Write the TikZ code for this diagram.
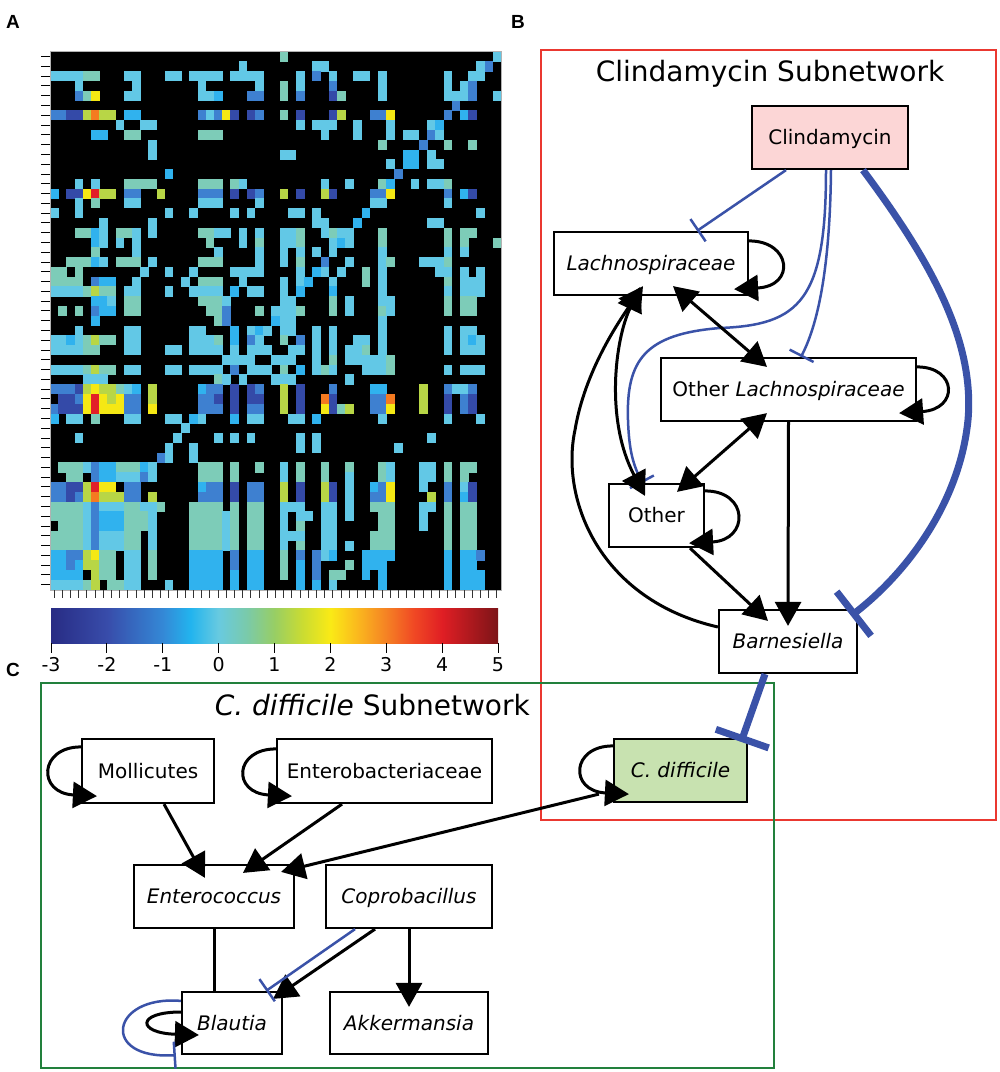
\documentclass[tikz,border=0pt]{standalone}
\usepackage{fontspec}
\setmainfont{DejaVu Sans}
\newfontfamily\panelfont{Liberation Sans}
\usetikzlibrary{arrows.meta}
\definecolor{hmcolc}{RGB}{98,200,230}
\definecolor{hmcols}{RGB}{48,178,238}
\definecolor{hmcolt}{RGB}{125,204,184}
\definecolor{hmcolb}{RGB}{62,128,208}
\definecolor{hmcold}{RGB}{52,74,168}
\definecolor{hmcolg}{RGB}{184,214,70}
\definecolor{hmcoly}{RGB}{245,232,20}
\definecolor{hmcolo}{RGB}{245,122,32}
\definecolor{hmcolr}{RGB}{226,32,40}
\definecolor{jA}{RGB}{40,44,132}
\definecolor{jB}{RGB}{56,76,170}
\definecolor{jC}{RGB}{52,136,214}
\definecolor{jD}{RGB}{34,180,238}
\definecolor{jE}{RGB}{104,202,224}
\definecolor{jF}{RGB}{122,202,170}
\definecolor{jG}{RGB}{152,206,100}
\definecolor{jH}{RGB}{202,220,50}
\definecolor{jI}{RGB}{250,234,22}
\definecolor{jJ}{RGB}{250,182,30}
\definecolor{jK}{RGB}{245,130,36}
\definecolor{jL}{RGB}{240,72,36}
\definecolor{jM}{RGB}{224,30,36}
\definecolor{jN}{RGB}{124,20,24}
\definecolor{netblue}{RGB}{58,82,168}
\definecolor{clinfill}{RGB}{252,214,214}
\definecolor{cdfill}{RGB}{200,226,176}
\definecolor{redframe}{RGB}{234,56,48}
\definecolor{greenframe}{RGB}{34,128,60}
\pgfdeclarehorizontalshading{jetbar}{100bp}{color(0bp)=(jA); color(25bp)=(jA); color(31.25bp)=(jB); color(37.5bp)=(jC); color(40.6bp)=(jD); color(43.75bp)=(jE); color(46.9bp)=(jF); color(50bp)=(jG); color(53.1bp)=(jH); color(56.25bp)=(jI); color(59.4bp)=(jJ); color(62.5bp)=(jK); color(65.6bp)=(jL); color(68.75bp)=(jM); color(75bp)=(jN); color(100bp)=(jN)}
\newcommand\hmrow[2]{\foreach \a/\b/\k in {#2}{\fill[hmcol\k] ({50+8.2*\a},{51.7+9.78*#1}) rectangle ({50.3+8.2*(\b+1)},{52+9.78*(#1+1)});}}
\tikzset{
  netbox/.style={draw=black, fill=white, line width=2.2pt, minimum height=63pt, inner sep=0pt, text height=14.6pt, text depth=0pt, font=\fontsize{20}{24}\selectfont},
  actarrow/.style={draw=black, line width=3pt, -{Triangle[length=24pt,width=26pt]}},
  biarrow/.style={draw=black, line width=3pt, {Triangle[length=24pt,width=26pt]}-{Triangle[length=24pt,width=26pt]}},
  plainline/.style={draw=black, line width=3pt},
  inhib/.style={draw=netblue, line width=2.5pt, -{Bar[width=27pt]}},
  inhibthick/.style={draw=netblue, line width=7pt, -{Bar[width=56pt]}},
  paneltag/.style={font=\panelfont\bfseries\fontsize{19}{22}\selectfont, inner sep=0pt},
  subtitle/.style={font=\fontsize{28}{34}\selectfont, inner sep=0pt},
  cblabel/.style={font=\fontsize{19}{22}\selectfont, inner sep=0pt, anchor=base},
}
\begin{document}
\begin{tikzpicture}[x=1pt,y=-1pt]
\useasboundingbox (0,0) rectangle (1000,1072);
\fill[white] (0,0) rectangle (1000,1072);
% ---------------- panel A : heatmap
\fill[black] (50,51.7) rectangle (501,590);
\hmrow{0}{28/28/t,54/54/c}
\hmrow{1}{23/23/c,32/33/c,52/52/c,53/53/b}
\hmrow{2}{0/3/c,4/5/t,9/10/c,14/15/c,17/20/c,22/25/c,30/30/c,32/32/b,34/34/c,37/38/c,40/40/c,48/48/c,51/52/c}
\hmrow{3}{3/3/c,10/10/c,18/18/c,25/25/c,28/28/t,30/30/c,34/34/b,40/40/c,48/48/c,50/50/c,51/51/b}
\hmrow{4}{3/3/b,4/4/t,5/5/y,9/10/c,18/19/c,20/20/s,24/25/b,28/28/t,30/30/b,34/34/d,35/35/t,40/40/c,48/50/c,51/51/b,54/54/c}
\hmrow{5}{49/49/b}
\hmrow{6}{0/1/b,2/3/d,4/4/g,5/5/o,6/7/g,9/10/s,18/18/b,19/19/c,20/20/b,21/21/y,22/22/d,24/24/d,25/25/b,28/28/t,30/30/d,34/34/d,35/35/g,39/40/b,41/41/y,48/48/b,50/50/s,51/51/d}
\hmrow{7}{8/8/c,11/12/c,30/30/c,32/34/c,37/37/c,41/41/c,46/46/c,47/47/s}
\hmrow{8}{5/6/s,9/10/t,18/20/t,33/33/c,37/37/c,41/41/c,43/44/c,46/46/b,47/47/c}
\hmrow{9}{12/12/c,40/40/t,45/45/b,48/48/t,51/51/t}
\hmrow{10}{12/12/c,28/29/c,43/44/s,46/46/c}
\hmrow{11}{41/41/c,43/44/s,46/47/c}
\hmrow{12}{14/14/s,42/42/b}
\hmrow{13}{3/3/c,5/5/c,9/12/t,18/20/t,22/22/t,23/23/c,33/33/c,36/36/c,40/40/t,41/41/s,44/44/c,46/47/c,48/48/t}
\hmrow{14}{0/0/s,2/3/d,4/4/y,5/5/r,6/7/g,9/10/b,13/13/g,18/20/b,22/22/d,24/24/d,25/25/b,28/28/g,30/30/d,33/33/g,34/34/d,39/40/b,41/41/y,48/48/b,50/50/s,51/51/d}
\hmrow{15}{3/3/c,5/5/t,9/10/c,18/20/c,25/25/c,39/40/c,48/48/c}
\hmrow{16}{0/0/c,3/3/c,14/14/c,17/17/c,22/22/c,24/24/c,29/30/c,32/32/c,38/38/s,52/52/c}
\hmrow{17}{6/6/c,12/12/c,32/33/c,37/37/s,46/47/c}
\hmrow{18}{3/4/t,5/5/s,6/6/c,8/9/t,10/10/c,12/12/c,18/19/t,20/21/c,23/23/c,25/25/c,28/29/c,30/30/t,33/33/c,34/34/t,35/36/c,40/40/t,48/48/t,50/51/t}
\hmrow{19}{5/5/s,6/6/c,8/8/c,10/10/c,19/19/t,23/23/c,25/25/t,28/29/c,30/30/t,34/34/c,35/35/s,36/36/c,40/40/t,48/48/t,50/50/t,54/54/t}
\hmrow{20}{5/5/t,10/10/c,20/20/c,25/25/c,28/28/c,30/30/c,32/32/c,34/34/c,40/40/c,48/48/c,50/50/c}
\hmrow{21}{2/4/t,5/5/s,6/6/c,8/10/t,12/12/c,18/20/t,25/25/c,28/28/c,30/30/t,33/33/b,36/36/c,40/40/c,41/41/t,45/47/c,48/48/t}
\hmrow{22}{0/1/t,3/3/t,11/11/c,14/14/c,17/17/c,22/25/c,30/30/c,32/32/s,33/33/c,35/35/c,38/38/t,40/40/c,47/48/c,50/50/c,52/52/c}
\hmrow{23}{0/3/t,5/5/b,6/7/s,10/10/c,16/16/c,18/20/t,23/23/c,28/28/c,30/30/c,31/31/s,34/34/c,38/38/t,40/40/c,48/48/t,50/52/c}
\hmrow{24}{0/3/c,4/4/t,5/5/g,6/7/t,9/10/c,14/14/c,17/20/c,22/22/s,24/25/c,28/28/c,30/30/s,34/34/s,40/40/c,48/48/c,50/52/c}
\hmrow{25}{5/6/s,7/7/c,9/10/t,18/20/t,21/21/c,28/29/c,34/34/t,36/36/c,40/41/c,48/48/t,50/51/t}
\hmrow{26}{1/1/t,3/3/t,5/5/b,6/7/s,9/10/t,19/20/t,21/21/b,25/25/t,27/29/c,30/30/t,34/34/t,36/36/c,40/40/t,41/41/c,48/48/t,50/51/t}
\hmrow{27}{5/5/s,20/20/t,21/21/b,27/27/s,28/29/c,40/40/c}
\hmrow{28}{3/3/c,9/10/c,17/18/c,22/22/s,24/24/c,25/25/s,26/26/c,28/29/c,32/32/c,34/34/c,40/40/c,48/48/c,50/51/c}
\hmrow{29}{0/1/c,2/2/s,3/3/c,4/4/t,5/5/g,6/7/t,9/10/c,17/19/c,20/20/t,22/22/s,24/24/b,25/25/c,28/28/t,30/30/b,32/32/c,34/34/c,37/38/c,40/40/c,48/48/c,50/50/c,51/51/s,52/52/c}
\hmrow{30}{0/3/c,4/5/t,9/10/c,14/15/c,17/20/c,22/22/c,24/26/c,29/30/c,32/32/c,34/34/c,36/37/c,38/38/t,40/40/c,48/48/c,50/52/c}
\hmrow{31}{21/24/c,27/29/c,32/32/c,34/34/t,36/40/c,41/41/t}
\hmrow{32}{0/3/c,4/4/t,5/5/g,6/7/t,9/10/c,14/15/c,17/20/c,22/22/b,24/26/c,28/28/t,30/30/s,32/32/c,33/33/t,34/34/c,38/40/c,41/41/t,48/48/c,50/52/c}
\hmrow{33}{4/6/c,20/20/t,21/21/c,23/23/c,27/29/c,36/36/c}
\hmrow{34}{0/2/b,3/3/d,4/4/g,5/5/y,6/7/g,8/8/t,9/9/c,10/10/s,12/12/g,18/18/s,19/20/b,22/22/d,24/24/d,25/25/b,28/28/g,30/30/d,34/34/b,39/40/s,45/45/g,48/48/b,49/50/c,51/51/b}
\hmrow{35}{1/2/d,3/3/b,4/4/y,5/5/r,6/6/y,7/7/g,8/8/y,9/10/b,12/12/g,18/19/b,20/20/d,22/22/d,24/25/d,28/28/g,30/30/d,33/33/o,34/34/d,39/40/b,41/41/o,45/45/g,48/48/d,50/50/b,51/51/d}
\hmrow{36}{0/0/b,1/3/d,4/4/y,5/5/r,6/8/y,9/10/b,12/12/y,18/20/b,22/22/d,24/25/b,28/28/g,30/30/d,33/33/y,34/34/d,35/35/t,36/36/g,39/40/b,41/41/y,45/45/g,48/48/d,50/50/b,51/51/d}
\hmrow{37}{0/0/s,2/3/c,5/5/t,9/10/c,14/15/c,17/17/s,18/18/c,22/22/s,24/25/c,29/30/c,32/32/s,40/40/c,48/48/c,52/52/c}
\hmrow{38}{16/16/c}
\hmrow{39}{3/3/c,15/15/c,20/20/c,22/22/c,24/24/c,30/30/c,32/32/c,46/46/c}
\hmrow{40}{14/14/c,17/17/c,30/30/c,32/32/c,42/42/c}
\hmrow{41}{13/13/b,14/14/c,17/17/c}
\hmrow{42}{1/3/t,4/4/c,5/5/b,6/7/s,8/10/t,11/11/s,12/12/c,18/20/t,22/22/t,25/25/t,28/28/c,30/30/t,33/33/t,36/36/t,40/40/t,41/41/c,45/46/c,48/48/t,50/51/t}
\hmrow{43}{2/3/t,5/5/b,6/7/s,8/10/c,11/11/b,12/12/c,18/20/t,22/22/t,28/28/c,30/30/t,33/33/t,36/36/c,40/40/t,41/41/c,45/46/c,48/48/t,50/50/t}
\hmrow{44}{0/1/b,2/3/d,4/4/g,5/5/r,6/7/y,9/10/b,18/18/s,19/20/b,22/22/d,24/25/b,28/28/g,30/30/d,33/33/g,34/34/d,36/36/c,39/39/s,40/40/b,41/41/y,45/45/c,48/48/b,50/50/c,51/51/d}
\hmrow{45}{0/1/b,2/2/d,3/3/b,4/4/g,5/5/o,6/8/g,9/10/b,12/12/g,18/20/b,22/22/d,24/25/b,28/28/g,30/30/d,33/33/g,34/34/d,36/36/c,39/40/b,41/41/y,46/46/g,48/48/b,50/50/s,51/51/d}
\hmrow{46}{0/3/t,4/4/c,5/5/b,6/8/c,9/10/t,11/12/c,13/13/t,17/20/t,22/22/t,24/25/t,28/30/c,33/34/c,36/36/c,39/41/t,45/46/c,48/48/t,50/51/t}
\hmrow{47}{0/3/t,4/4/c,5/5/b,6/8/s,9/11/t,12/12/c,17/20/t,21/21/c,22/22/t,24/25/t,28/28/c,30/31/c,33/34/c,36/36/c,40/41/t,45/45/c,48/48/t,50/51/t}
\hmrow{48}{1/3/t,4/4/c,5/5/b,6/8/s,9/11/t,12/12/c,17/20/t,21/21/c,22/22/t,24/25/t,28/28/c,30/30/t,33/34/c,40/41/t,45/45/c,48/48/t,50/51/t}
\hmrow{49}{0/3/t,4/4/c,5/5/b,6/8/c,9/10/t,12/12/c,17/20/t,21/21/c,22/22/t,24/25/t,28/30/c,33/34/c,39/41/t,48/48/t,50/51/t}
\hmrow{50}{0/3/t,4/4/c,5/5/b,6/8/c,9/10/t,12/12/c,17/20/t,21/21/c,22/22/t,24/25/t,28/28/c,30/30/t,33/34/c,36/36/c,39/41/t,48/48/t,50/51/t}
\hmrow{51}{0/1/s,2/3/b,4/4/g,5/5/y,6/7/t,9/10/c,12/12/t,17/20/s,22/22/b,24/25/s,28/28/t,30/30/b,32/32/b,33/33/c,34/34/s,38/41/s,48/48/s,50/51/s,52/52/b}
\hmrow{52}{0/1/s,2/2/b,3/3/s,4/5/g,6/7/t,9/10/c,12/12/t,17/20/s,22/22/b,24/25/s,28/28/t,30/30/s,32/32/b,36/36/t,38/40/s,48/48/s,50/51/s}
\hmrow{53}{0/3/s,5/5/g,6/7/t,9/10/c,12/12/t,17/20/s,22/22/s,24/25/s,28/28/t,30/30/s,32/32/b,34/35/t,38/38/s,40/40/s,48/48/s,50/52/s}
\hmrow{54}{0/3/c,4/4/t,5/5/g,7/8/t,9/10/c,14/14/c,17/20/s,22/22/s,24/25/s,30/30/s,32/32/s,34/34/c,40/40/s,48/48/s,50/52/s}
\draw[gray!60, line width=0.8pt] (50,51.7) rectangle (501,590);
\foreach \r in {0,...,54} \draw[black, line width=0.9pt] (41,{56.6+9.78*\r}) -- (50,{56.6+9.78*\r});
\foreach \c in {0,...,54} \draw[black!80, line width=0.9pt] ({54.1+8.2*\c},590) -- ({54.1+8.2*\c},598);
% colour bar
\shade[shading=jetbar] (51,608) rectangle (498,643);
\foreach \v [count=\i from 0] in {-3,...,5}{
  \draw[black, line width=1pt] ({51+55.875*\i},643) -- ({51+55.875*\i},653);
  \node[cblabel] (cb\i) at ({51+55.875*\i},671) {\v};
}
% ---------------- panel labels
\node[paneltag] (labA) at (13,22) {A};
\node[paneltag] (labB) at (518,22) {B};
\node[paneltag] (labC) at (13,670) {C};
% ---------------- frames and titles
\draw[redframe, line width=1.6pt] (541,50) rectangle (996,820);
\draw[greenframe, line width=1.8pt] (41,683) rectangle (774,1068);
\node[subtitle, anchor=base] (titleB) at (770,81) {Clindamycin Subnetwork};
\node[subtitle, anchor=base east] (titleC) at (530,715) {\textit{C. difficile} Subnetwork};
% ---------------- nodes
\node[netbox, fill=clinfill, minimum width=156pt] (clin) at (830,137.5) {Clindamycin};
\node[netbox, minimum width=194pt] (lach) at (651,263.5) {\textit{Lachnospiraceae}};
\node[netbox, minimum width=255pt] (otherlach) at (788.5,389.5) {Other \textit{Lachnospiraceae}};
\node[netbox, minimum width=95pt] (other) at (656.5,515.5) {Other};
\node[netbox, minimum width=138pt] (barn) at (788,641.5) {\textit{Barnesiella}};
\node[netbox, fill=cdfill, minimum width=133pt] (cdiff) at (680.5,770.5) {\textit{C. difficile}};
\node[netbox, minimum width=132pt, minimum height=64pt] (moll) at (148,771) {Mollicutes};
\node[netbox, minimum width=215pt, minimum height=64pt] (entb) at (384.5,771) {Enterobacteriaceae};
\node[netbox, minimum width=160pt] (enterococcus) at (214,896.5) {\textit{Enterococcus}};
\node[netbox, minimum width=166pt] (copro) at (409,896.5) {\textit{Coprobacillus}};
\node[netbox, minimum width=100pt, minimum height=62pt] (blautia) at (232,1023) {\textit{Blautia}};
\node[netbox, minimum width=158pt, minimum height=62pt] (akk) at (409,1023) {\textit{Akkermansia}};
% ---------------- clindamycin subnetwork edges
\draw[inhib] ([xshift=-44pt]clin.south) -- ([xshift=46pt]lach.north);
\draw[inhib] ([xshift=-4pt]clin.south) .. controls (826,300) and (800,325) .. (720,328) .. controls (645,334) and (626,360) .. (628,420) .. controls (629,450) and (633,465) .. ([xshift=-14pt]other.north);
\draw[inhib] ([xshift=1pt]clin.south) .. controls (830,260) and (820,320) .. ([xshift=12.5pt]otherlach.north);
\draw[inhibthick] ([xshift=33pt]clin.south) .. controls (930,260) and (975,340) .. (968,420) .. controls (960,500) and (910,570) .. ([xshift=-7pt,yshift=-7pt]barn.north east);
\draw[actarrow] ([yshift=-10pt]lach.north east) .. controls +(42,0) and +(62,-3) .. ([xshift=-15pt,yshift=7pt]lach.south east);
\draw[biarrow] ([xshift=22pt,yshift=10pt]lach.south) -- ([xshift=-21.5pt,yshift=-10pt]otherlach.north);
\draw[actarrow] ([yshift=-10pt]otherlach.north east) .. controls +(40,0) and +(60,-4) .. ([xshift=-18pt,yshift=9pt]otherlach.south east);
\draw[biarrow] ([xshift=-21.5pt,yshift=9pt]otherlach.south) -- ([xshift=20.5pt,yshift=-9pt]other.north);
\draw[actarrow] (otherlach.south) -- ([yshift=-17pt]barn.north);
\draw[actarrow] ([yshift=-8pt]other.north east) .. controls +(44,0) and +(60,-3) .. ([xshift=-16pt,yshift=5pt]other.south east);
\draw[actarrow] ([xshift=33.5pt]other.south) -- ([xshift=-20pt,yshift=-12pt]barn.north);
\draw[actarrow] ([yshift=14.5pt]barn.west) .. controls (600,600) and (560,500) .. (575,430) .. controls (585,370) and (620,320) .. ([xshift=-8pt,yshift=10pt]lach.south);
\draw[biarrow] ([xshift=-11pt,yshift=9pt]lach.south) .. controls (615,340) and (605,420) .. ([xshift=-11.5pt,yshift=-13pt]other.north);
\draw[inhibthick] ([xshift=-23pt]barn.south) -- ([xshift=-7pt,yshift=-4pt]cdiff.north east);
% ---------------- C. difficile subnetwork edges
\draw[actarrow] ([yshift=-8pt]cdiff.north west) .. controls +(-42,0) and +(-60,-3) .. ([xshift=16pt,yshift=9pt]cdiff.south west);
\draw[actarrow] ([xshift=-14pt,yshift=9pt]cdiff.south west) -- ([xshift=-14pt,yshift=-8pt]enterococcus.north east);
\draw[actarrow] ([yshift=-9pt]moll.north west) .. controls +(-42,0) and +(-60,-3) .. ([xshift=16pt,yshift=8pt]moll.south west);
\draw[actarrow] ([yshift=-11pt]entb.north west) .. controls +(-42,0) and +(-60,-3) .. ([xshift=16pt,yshift=8pt]entb.south west);
\draw[actarrow] ([xshift=16pt]moll.south) -- ([xshift=-9pt,yshift=-14pt]enterococcus.north);
\draw[actarrow] ([xshift=-42.5pt]entb.south) -- ([xshift=29pt,yshift=-9pt]enterococcus.north);
\draw[plainline] (enterococcus.south) -- (enterococcus.south |- blautia.north);
\draw[actarrow] ([xshift=-34pt]copro.south) -- ([xshift=-10pt,yshift=-8pt]blautia.north east);
\draw[inhib] ([xshift=-54pt]copro.south) -- ([xshift=-17pt]blautia.north east);
\draw[actarrow] (copro.south) -- ([yshift=-16pt]akk.north);
\draw[actarrow] ([yshift=11pt]blautia.west) .. controls +(-45,0) and +(-62,-2) .. ([xshift=18pt,yshift=-12pt]blautia.west);
\draw[inhib] ([yshift=-10pt]blautia.north west) .. controls (110,995) and (100,1060) .. ([xshift=-5pt]blautia.south west);
\end{tikzpicture}
\end{document}
